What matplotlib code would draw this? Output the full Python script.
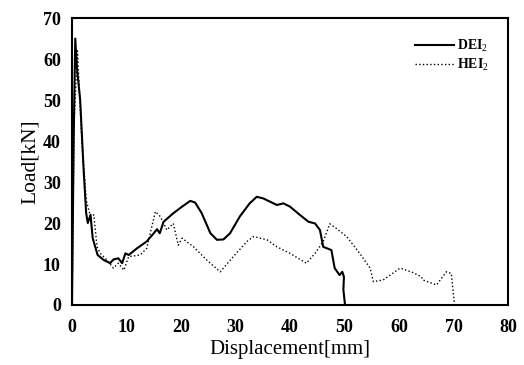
import matplotlib
matplotlib.use('Agg')
import matplotlib.pyplot as plt

plt.rcParams['font.family'] = ['Liberation Serif', 'DejaVu Serif']
plt.rcParams['mathtext.fontset'] = 'custom'
plt.rcParams['mathtext.rm'] = 'Liberation Serif'
plt.rcParams['mathtext.bf'] = 'Liberation Serif:bold'

# DEI2 (solid)
dei_x = [0.0, 0.3, 0.6, 0.9, 1.5, 2.1, 2.6, 2.9, 3.4, 3.8, 4.7, 5.8, 7.0, 7.6, 8.5, 9.2,
         9.8, 10.4, 11.9, 13.7, 15.0, 15.6, 16.1, 16.8, 18.6, 20.2, 21.7, 22.6, 23.8,
         25.4, 26.6, 27.8, 29.0, 30.8, 32.6, 33.9, 35.1, 37.6, 38.8, 40.0, 41.8, 43.4,
         44.6, 45.5, 46.1, 47.6, 48.2, 49.1, 49.6, 49.9, 49.8, 50.1]
dei_y = [0.0, 40.0, 65.0, 58.0, 50.0, 33.8, 22.4, 20.0, 22.0, 16.3, 12.2, 11.0, 10.2,
         11.1, 11.4, 10.2, 12.6, 12.2, 13.8, 15.5, 17.5, 18.5, 17.5, 20.3, 22.4, 24.0,
         25.4, 25.0, 22.4, 17.5, 15.9, 16.0, 17.5, 21.6, 24.8, 26.4, 26.0, 24.4, 24.8,
         24.0, 22.0, 20.3, 19.9, 18.3, 14.2, 13.4, 9.0, 7.3, 8.1, 6.9, 3.7, 0.0]

# HEI2 (dotted)
hei_x = [0.0, 0.4, 1.0, 1.8, 2.6, 3.4, 4.0, 4.6, 5.2, 6.4, 7.6, 8.5, 9.5, 10.4, 12.5,
         13.7, 15.3, 16.2, 17.4, 18.6, 19.5, 20.2, 22.3, 24.7, 27.2, 29.6, 32.1, 33.3,
         35.8, 37.6, 40.0, 43.0, 44.6, 46.1, 47.3, 48.5, 50.4, 52.8, 54.7, 55.3, 57.1,
         60.2, 62.6, 64.1, 64.4, 66.9, 68.7, 69.6, 70.2]
hei_y = [0.0, 45.0, 62.0, 40.3, 25.6, 21.6, 22.0, 14.2, 12.6, 11.0, 9.0, 10.2, 8.5,
         11.8, 12.2, 13.8, 22.8, 21.6, 18.3, 19.9, 14.6, 16.3, 14.2, 11.0, 8.1, 11.8,
         15.5, 16.7, 15.9, 14.2, 12.6, 10.2, 12.6, 15.5, 19.8, 18.7, 16.7, 12.6, 9.0,
         5.7, 6.1, 9.0, 7.9, 6.9, 6.1, 4.9, 8.1, 7.7, 0.0]

fig = plt.figure(figsize=(5.24, 3.65), dpi=100)
ax = fig.add_axes([0.1374, 0.1644, 0.832, 0.786])
ax.plot(dei_x, dei_y, color='black', linewidth=1.5, label='DEI$_2$')
ax.plot(hei_x, hei_y, color='black', linewidth=1.0, linestyle=':', label='HEI$_2$')

ax.set_xlim(0, 80)
ax.set_ylim(0, 70)
ax.set_xticks(range(0, 81, 10))
ax.set_yticks(range(0, 71, 10))
ax.tick_params(length=0, labelsize=13)
ax.tick_params(axis='x', pad=10)
ax.tick_params(axis='y', pad=8)
for lab in ax.get_xticklabels() + ax.get_yticklabels():
    lab.set_fontweight('bold')
for s in ax.spines.values():
    s.set_linewidth(1.5)

ax.set_xlabel('Displacement[mm]', fontsize=15, labelpad=3)
ax.set_ylabel('Load[kN]', fontsize=15.5, labelpad=2)

leg = ax.legend(loc='upper right', frameon=False, fontsize=10, handlelength=2.8,
                handletextpad=0.2, labelspacing=0.2, borderaxespad=1.0)
for t in leg.get_texts():
    t.set_fontweight('bold')

fig.savefig('out.png', dpi=100)
